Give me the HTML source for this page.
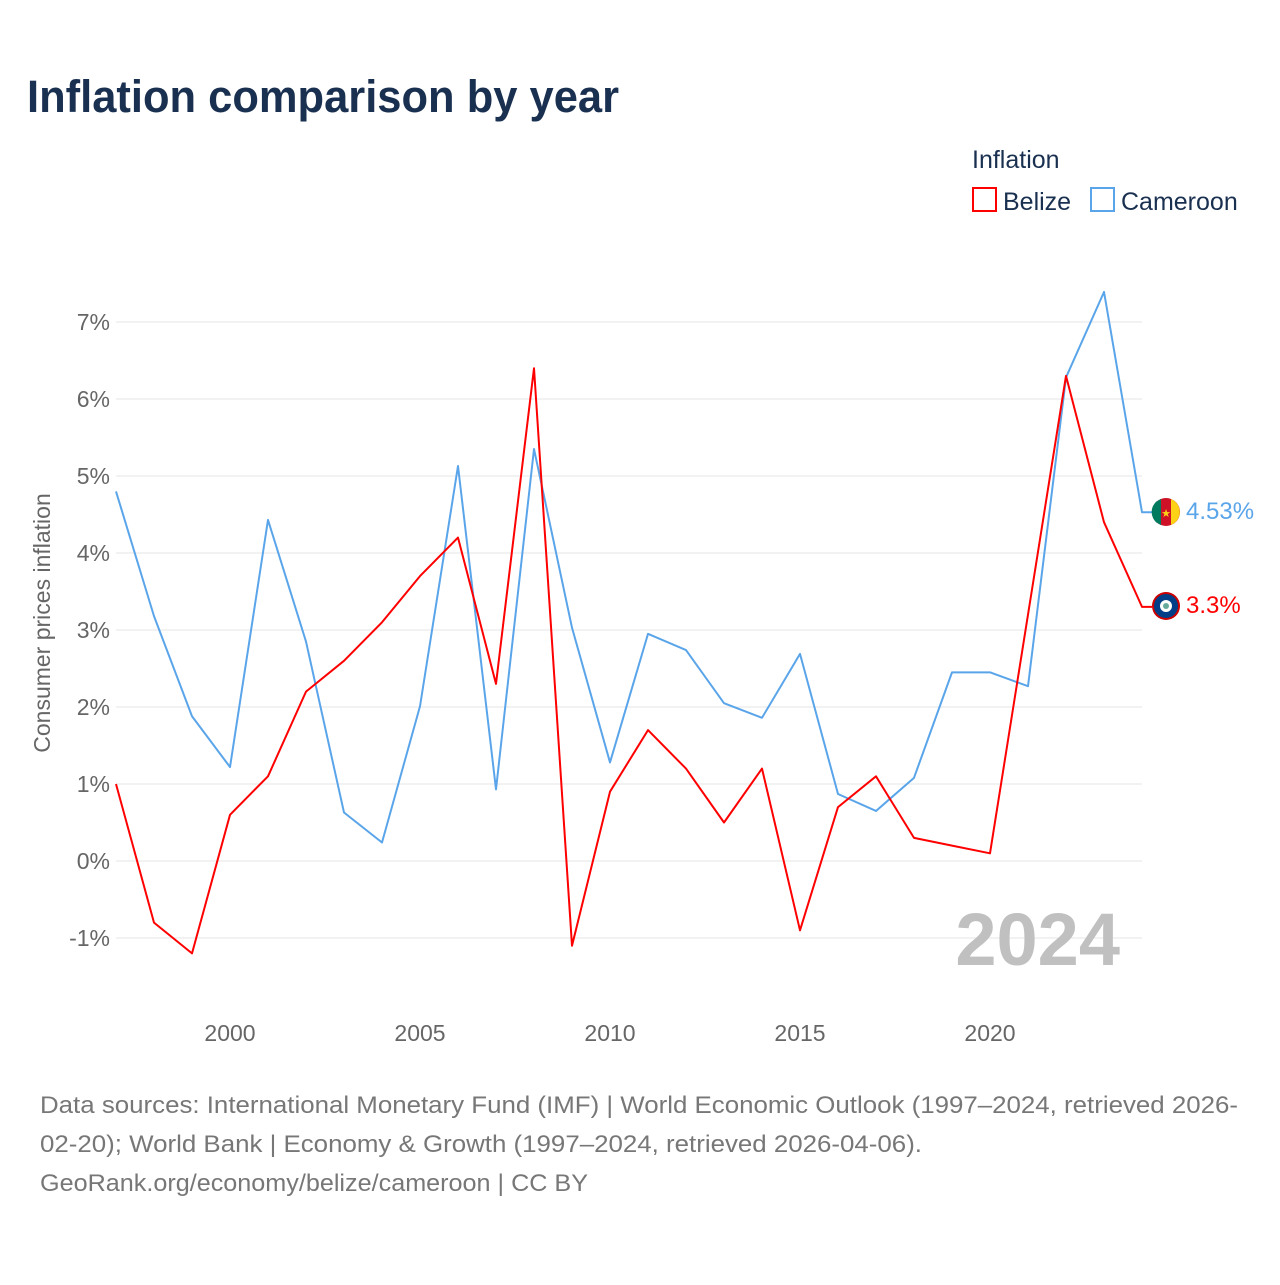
<!DOCTYPE html>
<html><head><meta charset="utf-8"><style>
body{margin:0;background:#fff;font-family:"Liberation Sans",sans-serif;}
</style></head><body>
<svg width="1280" height="1280" xmlns="http://www.w3.org/2000/svg" style="font-family:'Liberation Sans',sans-serif">
<rect width="1280" height="1280" fill="#fff"/>
<text x="27" y="112" font-size="45" font-weight="bold" fill="#1a3050" textLength="592" lengthAdjust="spacingAndGlyphs">Inflation comparison by year</text>
<text x="972" y="168" font-size="25" fill="#1a3050">Inflation</text>
<g><rect x="973" y="188" width="23" height="23" fill="none" stroke="#f00" stroke-width="2"/><text x="1003" y="210" font-size="25" fill="#1a3050">Belize</text></g>
<g><rect x="1091" y="188" width="23" height="23" fill="none" stroke="#5aa5ea" stroke-width="2"/><text x="1121" y="210" font-size="25" fill="#1a3050">Cameroon</text></g>
<g id="grid"></g><g id="xt"></g><g id="lines"></g>
<text transform="translate(50,623) rotate(-90)" text-anchor="middle" font-size="23" fill="#666">Consumer prices inflation</text>
<text x="1120" y="965" text-anchor="end" font-size="74" font-weight="bold" fill="#c0c0c0">2024</text>
<g font-size="24" fill="#777">
<text x="40" y="1113" textLength="1198" lengthAdjust="spacingAndGlyphs">Data sources: International Monetary Fund (IMF) | World Economic Outlook (1997–2024, retrieved 2026-</text>
<text x="40" y="1152" textLength="882" lengthAdjust="spacingAndGlyphs">02-20); World Bank | Economy &amp; Growth (1997–2024, retrieved 2026-04-06).</text>
<text x="40" y="1191" textLength="548" lengthAdjust="spacingAndGlyphs">GeoRank.org/economy/belize/cameroon | CC BY</text>
</g>
<g><circle cx="1166" cy="512" r="14" fill="#ce1126"/><path d="M1157,501 A14,14 0 0 0 1157,523 Z" fill="#007a5e"/><rect x="1152" y="498" width="9" height="28" fill="#007a5e" clip-path="circle(14px at 14px 14px)"/><path d="M1171,499 A14,14 0 0 1 1171,525 Z" fill="#fcd116"/><text x="1166" y="517" text-anchor="middle" font-size="11" fill="#fcd116">★</text></g>
<g><circle cx="1166" cy="606" r="14" fill="#c00"/><circle cx="1166" cy="606" r="12" fill="#003f87"/><circle cx="1166" cy="606" r="6" fill="#fff"/><circle cx="1166" cy="606" r="3" fill="#6a9"/></g>
<text x="1186" y="519" font-size="24" fill="#5aa5ea">4.53%</text>
<text x="1186" y="613" font-size="24" fill="#f00">3.3%</text>
</svg>
<script>
const years=[1997,1998,1999,2000,2001,2002,2003,2004,2005,2006,2007,2008,2009,2010,2011,2012,2013,2014,2015,2016,2017,2018,2019,2020,2021,2022,2023,2024];
const belize=[1.0,-0.8,-1.2,0.6,1.1,2.2,2.6,3.1,3.7,4.2,2.3,6.4,-1.1,0.9,1.7,1.2,0.5,1.2,-0.9,0.7,1.1,0.3,0.2,0.1,3.2,6.3,4.4,3.3];
const cameroon=[4.8,3.18,1.88,1.22,4.43,2.85,0.63,0.24,2.01,5.13,0.93,5.35,3.03,1.28,2.95,2.74,2.05,1.86,2.69,0.87,0.65,1.08,2.45,2.45,2.27,6.28,7.39,4.53];
const yTicks=[-1,0,1,2,3,4,5,6,7];
const xTicks=[2000,2005,2010,2015,2020];
const NS="http://www.w3.org/2000/svg";
const X=y=>116+(y-1997)*38, Y=v=>861-v*77;
function mk(t,a,p){const e=document.createElementNS(NS,t);for(const k in a)e.setAttribute(k,a[k]);p.appendChild(e);return e;}
const g=document.getElementById('grid');
yTicks.forEach(v=>{
 const l=mk('line',{x1:116,x2:1142,y1:Y(v),y2:Y(v),stroke:'#e6e6e6'},g);
 
 
 const t=mk('text',{x:110,y:Y(v)+8,'text-anchor':'end','font-size':23,fill:'#666'},g);
 
 
 t.textContent=v+'%';
});
const xt=document.getElementById('xt');
xTicks.forEach(v=>{
 const t=mk('text',{x:X(v),y:1041,'text-anchor':'middle','font-size':23,fill:'#666'},xt);
 
 
 t.textContent=v;
});
const L=document.getElementById('lines');
[[cameroon,'#5aa5ea','cameroon-line'],[belize,'#f00','belize-line']].forEach(([d,c,n])=>{
 let pts=d.map((v,i)=>X(years[i])+','+Y(v)).join(' ');
 pts+=' '+(X(2024)+10)+','+Y(d[d.length-1]);
 const p=mk('polyline',{points:pts,fill:'none',stroke:c,'stroke-width':2,'stroke-linejoin':'round'},L);
 
 
});
</script>
</body></html>
